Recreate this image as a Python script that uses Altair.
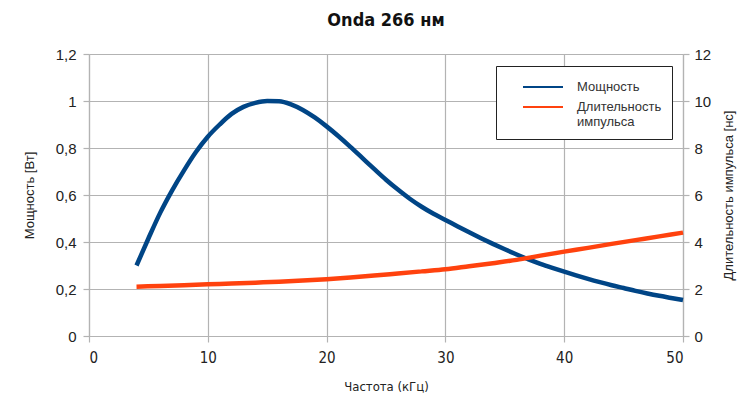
import altair as alt
import pandas as pd

# ---- data ----
freq_power = [4, 5, 6, 7, 8, 9, 10, 11, 12, 13, 14, 15, 16, 17, 18, 19, 20,
              21, 22, 23, 24, 25, 26, 27, 28, 29, 30, 31, 32, 33, 34, 35, 36,
              37, 38, 39, 40, 41, 42, 43, 44, 45, 46, 47, 48, 49, 50]
power = [0.30, 0.415, 0.525, 0.62, 0.705, 0.783, 0.848, 0.90, 0.945, 0.975,
         0.992, 1.0, 0.999, 0.986, 0.962, 0.93, 0.892, 0.85, 0.805, 0.758,
         0.711, 0.665, 0.623, 0.584, 0.55, 0.52, 0.494, 0.467, 0.441, 0.416,
         0.392, 0.369, 0.347, 0.326, 0.307, 0.29, 0.274, 0.258, 0.243, 0.229,
         0.216, 0.204, 0.192, 0.181, 0.171, 0.162, 0.153]

freq_pulse = [4, 6, 8, 10, 12, 14, 16, 18, 20, 22, 24, 26, 28, 30, 32, 34,
              36, 38, 40, 42, 44, 46, 48, 50]
pulse = [2.10, 2.13, 2.16, 2.20, 2.23, 2.27, 2.31, 2.36, 2.42, 2.49, 2.57,
         2.66, 2.75, 2.84, 2.97, 3.10, 3.24, 3.42, 3.59, 3.75, 3.92, 4.08,
         4.24, 4.40]

series = ["Мощность", "Длительность импульса"]
colors = ["#004586", "#ff420e"]

x_ticks = [0, 10, 20, 30, 40, 50]
left_ticks = [0, 0.2, 0.4, 0.6, 0.8, 1.0, 1.2]
right_ticks = [0, 2, 4, 6, 8, 10, 12]

df1 = pd.DataFrame({"f": freq_power, "v": power, "s": series[0]})
df2 = pd.DataFrame({"f": freq_pulse, "v": pulse, "s": series[1]})

LABEL_FONT = "Liberation Sans, Arial, sans-serif"
NARROW_FONT = "Liberation Sans Narrow, DejaVu Sans Condensed, sans-serif"
GRID = "#b3b3b3"

color_scale = alt.Scale(domain=series, range=colors)

x_enc = alt.X(
    "f:Q",
    scale=alt.Scale(domain=[0, 50], nice=False),
    axis=alt.Axis(
        values=x_ticks, title="Частота (кГц)", titleFont=NARROW_FONT,
        labelFont=NARROW_FONT, labelFontSize=15, titleFontSize=13,
        titleFontWeight="normal", tickSize=6, labelPadding=8,
        titlePadding=15, grid=True,
    ),
)

line1 = alt.Chart(df1).mark_line(strokeWidth=4.5, interpolate="monotone").encode(
    x=x_enc,
    y=alt.Y(
        "v:Q",
        scale=alt.Scale(domain=[0, 1.2], nice=False),
        axis=alt.Axis(
            orient="left", values=left_ticks, title="Мощность [Вт]",
            labelExpr="replace(format(datum.value, '.1~f'), '.', ',')",
            labelFontSize=15, titleFontSize=13, titleFontWeight="normal",
            tickSize=6, labelPadding=7, titlePadding=19, grid=True,
        ),
    ),
    color=alt.Color(
        "s:N", scale=color_scale,
        legend=alt.Legend(
            orient="none", legendX=407, legendY=12, title=None,
            symbolType="M-2,0L2,0", symbolSize=400, symbolStrokeWidth=2,
            symbolOffset=26, labelOffset=23, strokeColor="#222",
            padding=10, rowPadding=2, labelFontSize=13, labelColor="#333",
            labelFont=LABEL_FONT, labelLimit=300, fillColor="white",
            labelExpr="datum.label == 'Длительность импульса' ? ['Длительность', 'импульса'] : datum.label",
        ),
    ),
)

line2 = alt.Chart(df2).mark_line(strokeWidth=4.5, interpolate="monotone").encode(
    x=x_enc,
    y=alt.Y(
        "v:Q",
        scale=alt.Scale(domain=[0, 12], nice=False),
        axis=alt.Axis(
            orient="right", values=right_ticks,
            title="Длительность импульса [нс]", titleAngle=270,
            labelFontSize=15, titleFontSize=13, titleFontWeight="normal",
            tickSize=6, labelPadding=5, titlePadding=25, grid=False,
        ),
    ),
    color=alt.Color("s:N", scale=color_scale),
)

chart = (
    alt.layer(line1, line2)
    .resolve_scale(y="independent")
    .properties(
        width=594, height=282,
        autosize=alt.AutoSizeParams(type="none"),
        padding={"left": 89, "top": 54, "right": 60, "bottom": 63},
        title=alt.TitleParams(
            "Onda 266 нм", fontSize=18, font=NARROW_FONT,
            fontWeight="bold", anchor="middle", offset=17, color="#111",
        ),
    )
    .configure_view(stroke=None)
    .configure_axis(
        labelFont=LABEL_FONT, titleFont=LABEL_FONT, labelColor="#222",
        titleColor="#222", gridColor=GRID, domainColor=GRID, tickColor=GRID,
        gridWidth=1.2, domainWidth=1.2, tickWidth=1.2,
    )
)

chart.save("out.html", embed_options={"renderer": "svg", "actions": False})
